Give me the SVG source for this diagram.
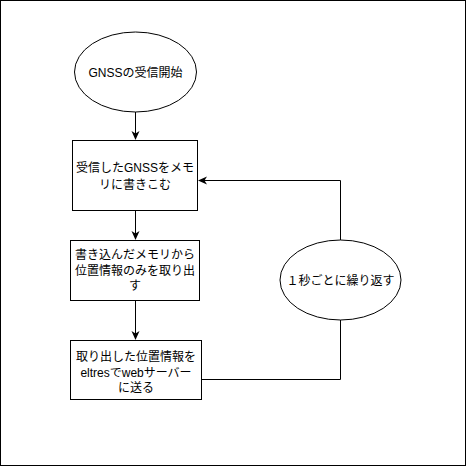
<svg xmlns="http://www.w3.org/2000/svg" width="466" height="466" viewBox="0 0 466 466">
<defs>
<style>
.shape{fill:#fff;stroke:#000;stroke-width:1}
.edge{fill:none;stroke:#000;stroke-width:1}
text{font-family:"Liberation Sans","Noto Sans CJK JP",sans-serif;font-size:12px;fill:#000;text-anchor:middle}
</style>
<marker id="arr" markerWidth="10" markerHeight="10" refX="8" refY="5" orient="auto" markerUnits="userSpaceOnUse">
<path d="M0,1 L9,5 L0,9 L2.5,5 Z" fill="#000"/>
</marker>
</defs>
<rect x="0.5" y="0.5" width="465" height="465" fill="#fff" stroke="#000"/>
<g id="connectors">
<path class="edge" d="M135.5,112 V139" marker-end="url(#arr)"/>
<path class="edge" d="M135.5,210 V239" marker-end="url(#arr)"/>
<path class="edge" d="M135.5,300 V339" marker-end="url(#arr)"/>
<path class="edge" d="M340.5,240 V180.5 H199" marker-end="url(#arr)"/>
<path class="edge" d="M340.5,320 V379.5 H201"/>
</g>
<g id="start">
<ellipse class="shape" cx="135.5" cy="72" rx="61" ry="40"/>
<text x="135.5" y="76.5">GNSSの受信開始</text>
</g>
<g id="write">
<rect class="shape" x="72.5" y="140.5" width="125" height="70"/>
<text x="135" y="172">受信したGNSSをメモ</text>
<text x="135" y="189">リに書きこむ</text>
</g>
<g id="extract">
<rect class="shape" x="70.5" y="240.5" width="129" height="60"/>
<text x="135" y="259">書き込んだメモリから</text>
<text x="135" y="275">位置情報のみを取り出</text>
<text x="135" y="290">す</text>
</g>
<g id="send">
<rect class="shape" x="70.5" y="340.5" width="131" height="59"/>
<text x="136" y="361">取り出した位置情報を</text>
<text x="136" y="377">eltresでwebサーバー</text>
<text x="136" y="392">に送る</text>
</g>
<g id="repeat">
<ellipse class="shape" cx="340.5" cy="280" rx="60.5" ry="40"/>
<text x="340.5" y="284.5">１秒ごとに繰り返す</text>
</g>
</svg>
